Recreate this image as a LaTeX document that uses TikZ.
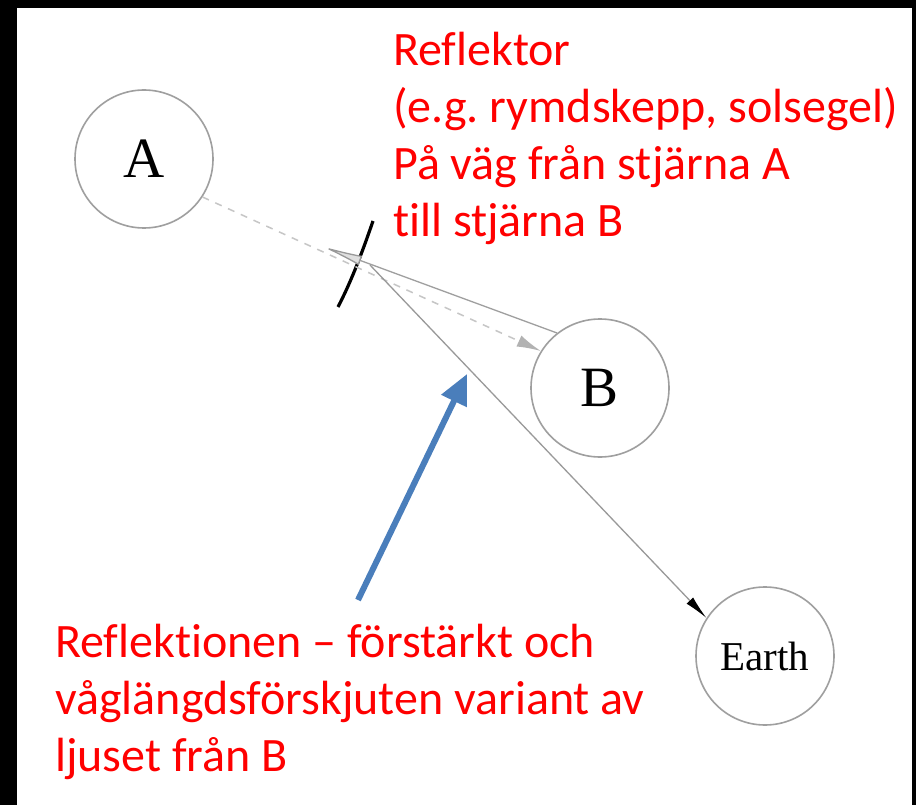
\documentclass[tikz,border=0pt]{standalone}
\usepackage{fontspec}
\setmainfont{Carlito}[Ligatures=NoCommon]
\newfontfamily\starfont{Liberation Serif}
\usetikzlibrary{arrows.meta}
\definecolor{bluearr}{RGB}{74,126,187}
\frenchspacing
\begin{document}
\begin{tikzpicture}[x=1pt,y=-1pt,
  star/.style={circle, draw=gray!75, line width=1.6pt, minimum size=138pt, inner sep=0pt,
    font=\starfont\fontsize{57}{57}\selectfont},
  redtext/.style={text=red, font=\fontsize{48}{57}\selectfont, align=left, anchor=north west, inner sep=0pt},
  pathAB/.style={gray!45, line width=1.5pt, dash pattern=on 7pt off 7pt,
    -{Latex[length=24pt,width=12pt,color=gray!60,fill=gray!60]}},
  rayB/.style={gray!75, line width=1.3pt,
    -{Latex[length=42pt,width=10pt,color=gray!80,fill=gray!25]}},
  rayE/.style={gray!80, line width=1.3pt, -{Latex[length=24pt,width=9pt,color=black,fill=black]}},
  reflector/.style={black, line width=3.2pt},
  bluearrow/.style={bluearr, line width=6pt, -{Triangle[length=30pt,width=27pt]}},
]
\fill[black] (0,0) rectangle (916,805);
\fill[white] (17,8) rectangle (912,805);
\useasboundingbox (0,0) rectangle (916,805);

% stars
\node[star] (A) at (144,159) {A};
\node[star] (B) at (600,388) {B};
\node[star, font=\starfont\fontsize{41}{41}\selectfont] (E) at (765,656) {Earth};

% reflector
\coordinate (r1) at (338,307);
\coordinate (r2) at (373,221);
\draw[reflector] (r1) .. controls (352,280) and (363,250) .. (r2);

% rays
\coordinate (tipR) at (321,246);
\coordinate (startE) at (370,265);
\draw[pathAB] (A.-33) -- (B.148);
\draw[rayB] (B.128) -- (tipR);
\draw[rayE] (startE) -- (E.147);

% blue arrow
\coordinate (blueTail) at (358,600);
\coordinate (blueTip) at (467,374);
\draw[bluearrow] (blueTail) -- (blueTip);

% texts
\node[redtext] (t1) at (393,32) {Reflektor\\(e.g. rymdskepp, solsegel)\\På väg från stjärna A\\till stjärna B};
\node[redtext] (t2) at (55,624) {Reflektionen – förstärkt och\\våglängdsförskjuten variant av\\ljuset från B};
\end{tikzpicture}
\end{document}
